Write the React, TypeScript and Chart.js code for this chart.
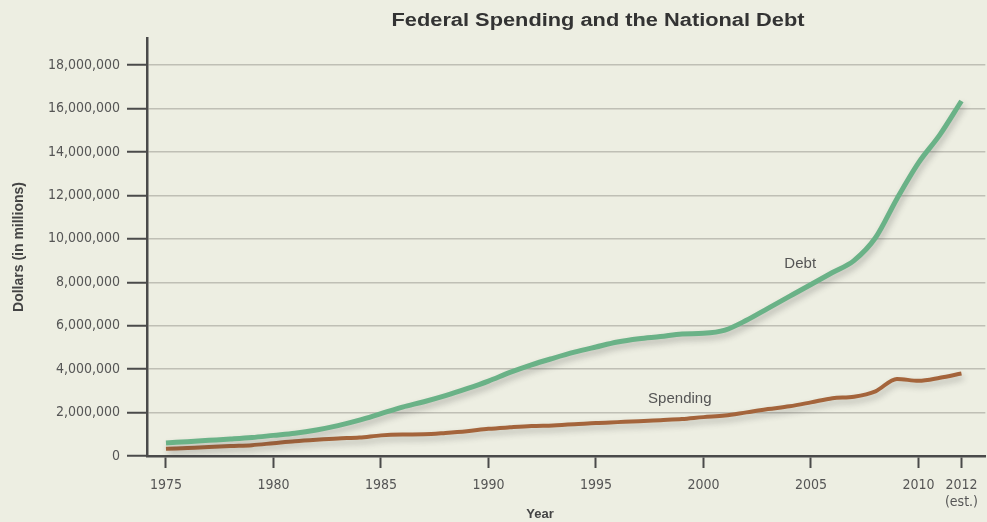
import React, { useEffect, useRef } from 'react';
import { Chart, registerables } from 'chart.js';

Chart.register(...registerables);

const years = [
  1975, 1976, 1977, 1978, 1979, 1980, 1981, 1982, 1983, 1984,
  1985, 1986, 1987, 1988, 1989, 1990, 1991, 1992, 1993, 1994,
  1995, 1996, 1997, 1998, 1999, 2000, 2001, 2002, 2003, 2004,
  2005, 2006, 2007, 2008, 2009, 2010, 2011, 2012,
];

// Dollars in millions
const debt = [
  600000, 660000, 720000, 780000, 850000, 950000, 1050000, 1200000, 1400000, 1650000,
  1950000, 2250000, 2500000, 2780000, 3100000, 3450000, 3850000, 4200000, 4500000, 4780000,
  5020000, 5250000, 5400000, 5500000, 5620000, 5650000, 5800000, 6250000, 6800000, 7350000,
  7900000, 8450000, 9000000, 10050000, 11850000, 13500000, 14800000, 16350000,
];

const spending = [
  330000, 370000, 410000, 460000, 500000, 590000, 680000, 750000, 810000, 850000,
  950000, 990000, 1000000, 1060000, 1140000, 1250000, 1320000, 1380000, 1410000, 1460000,
  1520000, 1560000, 1600000, 1650000, 1700000, 1790000, 1860000, 2010000, 2160000, 2290000,
  2470000, 2660000, 2730000, 2980000, 3550000, 3460000, 3600000, 3800000,
];

const yTickValues = [0, 2000000, 4000000, 6000000, 8000000, 10000000, 12000000, 14000000, 16000000, 18000000];
const xTickValues = [1975, 1980, 1985, 1990, 1995, 2000, 2005, 2010, 2012];
const xTickLabels: (string | string[])[] = ['1975', '1980', '1985', '1990', '1995', '2000', '2005', '2010', ['2012', '(est.)']];

const chartTitle = 'Federal Spending and the National Debt';
const yAxisTitle = 'Dollars (in millions)';
const xAxisTitle = 'Year';
const seriesNames = ['Debt', 'Spending'];

const BG = '#EDEEE2';
const AXIS = '#4a4a4a';
const TEXT = '#555555';
const GRID = 'rgba(175,175,165,0.75)';
const TICK_FONT = "'Liberation Sans Narrow', 'DejaVu Sans Condensed', 'Liberation Sans', sans-serif";

export default function App() {
  const ref = useRef<HTMLCanvasElement | null>(null);

  useEffect(() => {
    document.body.style.margin = '0';
    const canvas = ref.current;
    if (!canvas) return;

    const bgPlugin = {
      id: 'bgPlugin',
      beforeDraw(chart: any) {
        const { ctx, width, height } = chart;
        ctx.save();
        ctx.fillStyle = BG;
        ctx.fillRect(0, 0, width, height);
        ctx.restore();
      },
    };

    const shadowPlugin = {
      id: 'shadowPlugin',
      beforeDatasetsDraw(chart: any) {
        const ctx = chart.ctx;
        ctx.save();
        ctx.shadowColor = 'rgba(60,60,60,0.30)';
        ctx.shadowBlur = 6;
        ctx.shadowOffsetX = 2;
        ctx.shadowOffsetY = 4;
      },
      afterDatasetsDraw(chart: any) {
        chart.ctx.restore();
      },
    };

    const textPlugin = {
      id: 'textPlugin',
      afterDraw(chart: any) {
        const ctx = chart.ctx;
        const xs = chart.scales.x;
        const ys = chart.scales.y;
        ctx.save();
        // Title, fitted to its width
        ctx.font = "bold 18px 'Liberation Sans', Arial, sans-serif";
        ctx.fillStyle = '#333333';
        ctx.textBaseline = 'middle';
        ctx.textAlign = 'center';
        const w = ctx.measureText(chartTitle).width;
        const target = 413;
        ctx.save();
        ctx.translate(598, 21);
        ctx.scale(target / w, 1);
        ctx.fillText(chartTitle, 0, 0);
        ctx.restore();

        // X axis title
        ctx.font = "bold 13px 'Liberation Sans', Arial, sans-serif";
        ctx.fillStyle = '#444';
        ctx.fillText(xAxisTitle, 540, 514);

        // Series labels placed near their lines
        ctx.font = "15px 'Liberation Sans Narrow', 'Liberation Sans', sans-serif";
        ctx.fillStyle = TEXT;
        ctx.fillText(seriesNames[0], xs.getPixelForValue(2004.5), ys.getPixelForValue(8850000));
        ctx.fillText(seriesNames[1], xs.getPixelForValue(1998.9), ys.getPixelForValue(2630000));
        ctx.restore();
      },
    };

    const chart = new Chart(canvas, {
      type: 'line',
      data: {
        datasets: [
          {
            label: seriesNames[0],
            data: years.map((y, i) => ({ x: y, y: debt[i] })),
            borderColor: '#6AB287',
            borderWidth: 5,
            pointRadius: 0,
            cubicInterpolationMode: 'monotone',
            fill: false,
          },
          {
            label: seriesNames[1],
            data: years.map((y, i) => ({ x: y, y: spending[i] })),
            borderColor: '#A4643B',
            borderWidth: 4,
            pointRadius: 0,
            cubicInterpolationMode: 'monotone',
            fill: false,
          },
        ],
      },
      options: {
        animation: false,
        responsive: false,
        maintainAspectRatio: false,
        layout: { padding: { top: 38, right: 0, left: 0, bottom: 0 } },
        plugins: {
          legend: { display: false },
          title: { display: false },
          tooltip: { enabled: false },
        },
        scales: {
          x: {
            type: 'linear',
            min: 1974.118,
            max: 2013.11,
            afterBuildTicks(scale: any) {
              scale.ticks = xTickValues.map((v) => ({ value: v }));
            },
            afterFit(scale: any) {
              scale.height = 66;
            },
            border: { display: true, color: AXIS, width: 2.5 },
            grid: {
              drawOnChartArea: false,
              drawTicks: true,
              tickLength: 12,
              tickColor: AXIS,
              tickWidth: 2,
            },
            ticks: {
              autoSkip: false,
              maxRotation: 0,
              padding: 9,
              color: TEXT,
              font: { family: TICK_FONT, size: 14 },
              callback(value: any) {
                const idx = xTickValues.indexOf(Number(value));
                return idx >= 0 ? xTickLabels[idx] : '';
              },
            },
          },
          y: {
            type: 'linear',
            min: 0,
            max: 19250000,
            afterBuildTicks(scale: any) {
              scale.ticks = yTickValues.map((v) => ({ value: v }));
            },
            afterFit(scale: any) {
              scale.width = 147;
            },
            border: { display: true, color: AXIS, width: 2.5 },
            grid: {
              drawOnChartArea: true,
              drawTicks: true,
              tickLength: 20,
              color: GRID,
              lineWidth: 1.5,
              tickColor: AXIS,
              tickWidth: 2,
            },
            ticks: {
              padding: 7,
              color: TEXT,
              font: { family: TICK_FONT, size: 14 },
              callback(value: any) {
                return Number(value).toLocaleString('en-US');
              },
            },
            title: {
              display: true,
              text: yAxisTitle,
              color: '#444',
              font: { family: "'Liberation Sans', Arial, sans-serif", size: 14, weight: 'bold' },
              padding: { top: 11, bottom: 0 },
            },
          },
        },
      },
      plugins: [bgPlugin, shadowPlugin, textPlugin],
    });

    return () => {
      chart.destroy();
    };
  }, []);

  return (
    <div style={{ width: 987, height: 522 }}>
      <canvas ref={ref} width={987} height={522} style={{ display: 'block' }} />
    </div>
  );
}
